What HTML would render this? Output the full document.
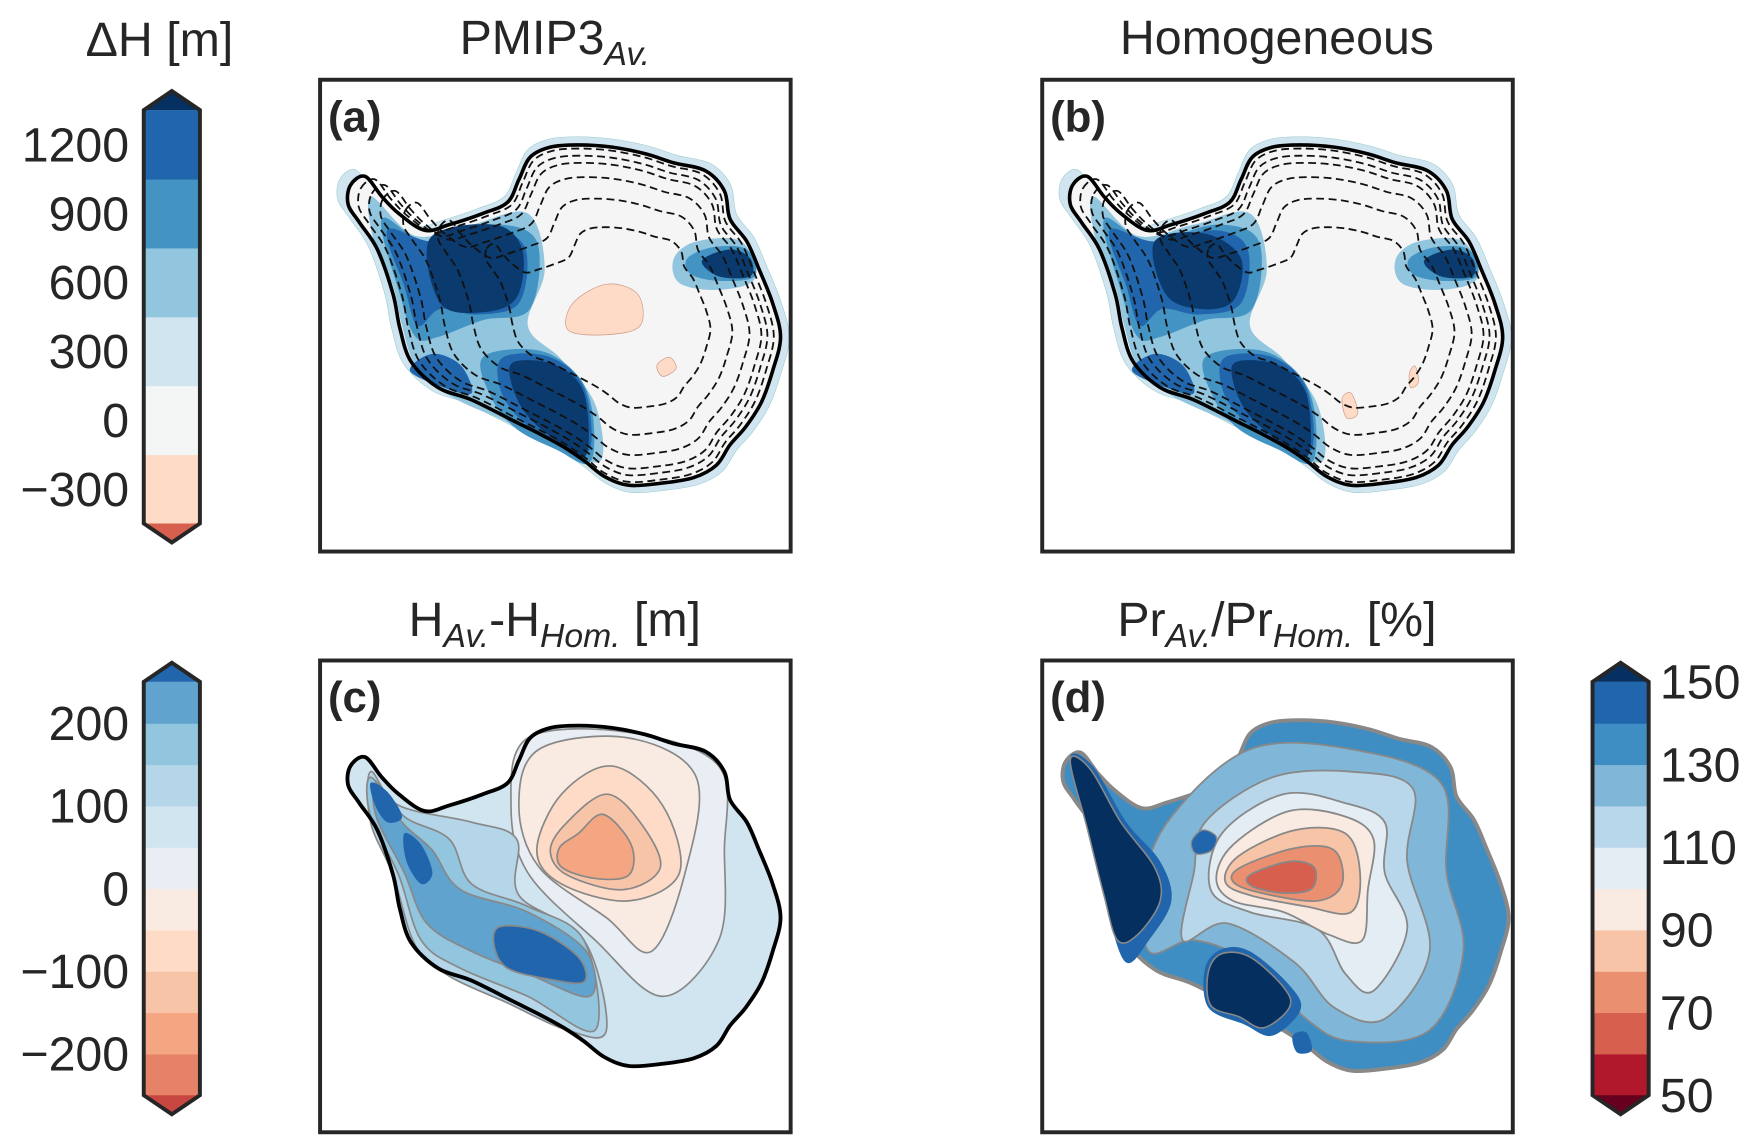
<!DOCTYPE html>
<html><head><meta charset="utf-8">
<style>
html,body{margin:0;padding:0;background:#fff;}
svg{display:block;}
text{font-family:"Liberation Sans","DejaVu Sans",sans-serif;fill:#262626;}
</style></head>
<body>
<svg id="fig" width="1752" height="1148" viewBox="0 0 1560 1022" preserveAspectRatio="none" xmlns="http://www.w3.org/2000/svg">
  <text x="142" y="50" font-size="43" text-anchor="middle">ΔH [m]</text>
  <text x="494" y="48" font-size="43" text-anchor="middle">PMIP3<tspan font-size="30" font-style="italic" dy="10">Av.</tspan></text>
  <text x="1137" y="48" font-size="43" text-anchor="middle">Homogeneous</text>
  <text x="494" y="566" font-size="43" text-anchor="middle">H<tspan font-size="30" font-style="italic" dy="10">Av.</tspan><tspan dy="-10">-H</tspan><tspan font-size="30" font-style="italic" dy="10">Hom.</tspan><tspan dy="-10"> [m]</tspan></text>
  <text x="1137" y="566" font-size="43" text-anchor="middle">Pr<tspan font-size="30" font-style="italic" dy="10">Av.</tspan><tspan dy="-10">/Pr</tspan><tspan font-size="30" font-style="italic" dy="10">Hom.</tspan><tspan dy="-10"> [%]</tspan></text>
  <g id="maps"></g>
  <g id="cbars"></g>
</svg>
<script>
// ---- colorbar data ----
const cb1Levels = [-450,-150,150,450,750,1050,1350];
const cb1Colors = ["#fddbc7","#f4f5f5","#d1e5f0","#92c5de","#4393c3","#2166ac"];
const cb1Ticks = [1200,900,600,300,0,-300];
const cb1Ext = ["#d6604d","#053061"];
const cb2Levels = [-250,-200,-150,-100,-50,0,50,100,150,200,250];
const cb2Colors = ["#e58267","#f4a582","#f8c4a8","#fddbc7","#f9ebe2","#e8eef4","#d1e5f0","#b5d5e8","#92c5de","#5fa3ce"];
const cb2Ticks = [200,100,0,-100,-200];
const cb2Ext = ["#c94741","#2166ac"];
const cb3Levels = [50,60,70,80,90,100,110,120,130,140,150];
const cb3Colors = ["#b2182b","#d6604d","#ea9070","#f8c4a8","#f9ebe2","#e3edf3","#b9d7ea","#80b7d8","#3f8ec3","#2166ac"];
const cb3Ticks = [150,130,110,90,70,50];
const cb3Ext = ["#67001f","#053061"];

const NS="http://www.w3.org/2000/svg";
function mk(tag,attrs,parent){const e=document.createElementNS(NS,tag);for(const k in attrs)e.setAttribute(k,attrs[k]);parent.appendChild(e);return e;}

function colorbar(x,top,bot,levels,colors,ticks,ext,labelRight,name){
  const g=mk("g",{},document.getElementById("cbars"));
  
  
  const w=50, lo=levels[0], hi=levels[levels.length-1];
  const y=v=>bot-(v-lo)/(hi-lo)*(bot-top);
  for(let i=0;i<colors.length;i++){
    const r=mk("rect",{x:x,y:y(levels[i+1]),width:w,height:y(levels[i])-y(levels[i+1])+0.5,fill:colors[i]},g);
    
    
  }
  const t1=mk("polygon",{points:`${x},${top} ${x+w/2},${top-17} ${x+w},${top}`,fill:ext[1]},g);
  
  
  const t2=mk("polygon",{points:`${x},${bot} ${x+w/2},${bot+17} ${x+w},${bot}`,fill:ext[0]},g);
  
  
  mk("polygon",{points:`${x},${top} ${x+w/2},${top-17} ${x+w},${top} ${x+w},${bot} ${x+w/2},${bot+17} ${x},${bot}`,fill:"none",stroke:"#262626","stroke-width":3.5},g);
  ticks.forEach(v=>{
    const t=mk("text",{x:labelRight?x+w+10:x-13,y:y(v)+15,"font-size":43,"text-anchor":labelRight?"start":"end"},g);
    t.textContent=(v<0?"\u2212"+(-v):String(v));
    
    
  });
}
colorbar(128,98,466,cb1Levels,cb1Colors,cb1Ticks,cb1Ext,false,"colorbar-dh");
colorbar(128,607,975,cb2Levels,cb2Colors,cb2Ticks,cb2Ext,false,"colorbar-h-diff");
colorbar(1418,607,975,cb3Levels,cb3Colors,cb3Ticks,cb3Ext,true,"colorbar-pr-ratio");

// ---- map shapes (geometry, panel-a coordinates) ----
const outline=[[312,165],[325,157],[340,175],[355,190],[378,205],[400,200],[430,190],[452,180],[462,160],[472,140],[490,131],[515,129],[545,131],[575,137],[600,145],[628,152],[645,170],[650,195],[665,215],[676,240],[688,270],[695,300],[688,330],[678,358],[664,380],[650,396],[638,414],[618,425],[590,430],[560,432],[538,424],[520,410],[502,398],[480,386],[458,375],[420,356],[390,345],[366,322],[356,292],[350,262],[336,222],[320,198],[310,182]];
function smooth(p){let d=`M${p[0][0]},${p[0][1]}`;const n=p.length;
  for(let i=0;i<n;i++){const p0=p[(i-1+n)%n],p1=p[i],p2=p[(i+1)%n],p3=p[(i+2)%n];
    d+=` C${p1[0]+(p2[0]-p0[0])/6},${p1[1]+(p2[1]-p0[1])/6} ${p2[0]-(p3[0]-p1[0])/6},${p2[1]-(p3[1]-p1[1])/6} ${p2[0]},${p2[1]}`;}
  return d+"Z";}
function scl(p,cx,cy,s,sy){sy=sy||s;return p.map(q=>[cx+(q[0]-cx)*s,cy+(q[1]-cy)*sy]);}
function path(g,pts,attrs,name){const e=mk("path",Object.assign({d:smooth(pts)},attrs),g);return e;}

function panelFrame(dx,dy,label){
  const g=mk("g",{transform:`translate(${dx},${dy})`},document.getElementById("maps"));
  
  
  return g;
}
function finishFrame(g,label){
  const r=mk("rect",{x:285,y:71,width:419,height:420,fill:"none",stroke:"#262626","stroke-width":3.5},g);
  
  
  const t=mk("text",{x:292,y:117,"font-size":39,"font-weight":"bold"},g);
  t.textContent="("+label+")";
  
  
}
function topPanel(dx,label,variant){
  const g=panelFrame(dx,0,label);
  path(g,scl(outline,520,290,1.045),{fill:"#d1e5f0",stroke:"#9cc",  "stroke-width":0.5},"ice-halo");
  path(g,outline,{fill:"#f5f5f5"},"ice-sheet");
  path(g,[[330,175],[370,210],[420,200],[470,190],[485,240],[470,290],[500,320],[530,360],[535,410],[500,398],[450,375],[400,352],[370,325],[358,290],[350,255],[334,220]],{fill:"#92c5de"},"light-blue-region");
  path(g,[[340,195],[380,215],[440,200],[478,215],[472,275],[430,285],[390,300],[370,300],[356,262]],{fill:"#4393c3"},"blue-region-west");
  path(g,[[345,205],[385,215],[440,205],[468,222],[462,270],[425,280],[392,275],[372,290],[360,255]],{fill:"#2166ac"},"dark-region-west-rim");
  path(g,variant?[[385,215],[430,208],[462,230],[455,268],[425,275],[395,262]]:[[383,212],[440,200],[465,222],[460,265],[430,278],[392,270]],{fill:"#0b3a6e"},"dark-region-west");
  path(g,[[430,318],[480,312],[515,335],[528,370],[525,412],[495,400],[460,382],[438,355]],{fill:"#4393c3"},"blue-region-south");
  path(g,[[448,318],[490,318],[520,345],[525,400],[495,395],[462,372],[445,345]],{fill:"#2166ac"},"dark-rim-south");
  path(g,[[458,322],[495,325],[520,350],[522,405],[495,392],[468,368],[455,340]],{fill:"#0b3a6e"},"dark-region-south");
  path(g,[[365,330],[385,315],[410,325],[420,350],[395,345]],{fill:"#2166ac"},"dark-blob-sw");
  path(g,[[600,230],[620,215],[660,215],[672,248],[640,258],[605,252]],{fill:"#92c5de"},"halo-east");
  path(g,[[612,230],[635,220],[665,222],[672,246],[640,250],[615,244]],{fill:"#4393c3"},"blue-east");
  path(g,[[625,232],[650,222],[668,230],[668,246],[640,246]],{fill:"#0b3a6e"},"dark-east");
  if(!variant){
    path(g,[[510,270],[540,253],[568,262],[570,290],[540,298],[506,294]],{fill:"#fddbc7",stroke:"#c98","stroke-width":0.6},"negative-area");
    path(g,[[585,325],[596,318],[602,328],[590,335]],{fill:"#fddbc7",stroke:"#c98","stroke-width":0.6},"negative-area-small");
  }else{
    path(g,[[552,355],[560,350],[566,368],[556,372]],{fill:"#fddbc7",stroke:"#c98","stroke-width":0.6},"negative-area-small");
    path(g,[[612,332],[617,326],[620,340],[613,345]],{fill:"#fddbc7",stroke:"#c98","stroke-width":0.6},"negative-area-small");
  }
  [0.96,0.92,0.88,0.8,0.68,0.52].forEach((s,i)=>{
    path(g,scl(outline,545+i*4,285,s,s*1.02),{fill:"none",stroke:"#111","stroke-width":1.6,"stroke-dasharray":"7,4"},"elevation-contour");
  });
  path(g,outline,{fill:"none",stroke:"#000","stroke-width":3.2},"coastline");
  finishFrame(g,label);
}
topPanel(0,"a",false);
topPanel(643,"b",true);

// panel c
(function(){
  const g=panelFrame(0,517,"c");
  path(g,outline,{fill:"#d1e5f0"},"ice-sheet");
  path(g,[[470,140],[560,135],[640,165],[645,240],[640,320],[590,370],[530,320],[470,260],[455,200]],{fill:"#e8eef4",stroke:"#888","stroke-width":1.5},"contour-0");
  path(g,[[480,150],[560,140],[620,175],[610,260],[580,330],[540,300],[480,255],[462,200]],{fill:"#f9ebe2",stroke:"#888","stroke-width":1.5},"contour-neg50");
  path(g,[[500,190],[545,165],[590,200],[605,260],[560,285],[500,270],[478,240]],{fill:"#fddbc7",stroke:"#888","stroke-width":1.5},"contour-neg100");
  path(g,[[505,215],[540,190],[570,215],[588,255],[555,275],[505,262],[490,240]],{fill:"#f8c4a8",stroke:"#888","stroke-width":1.5},"contour-neg150");
  path(g,[[515,225],[537,208],[562,235],[560,262],[530,265],[500,255],[498,238]],{fill:"#f4a582",stroke:"#888","stroke-width":1.5},"contour-neg200");
  path(g,[[330,170],[355,200],[420,215],[460,230],[462,280],[520,320],[540,400],[505,400],[450,375],[400,352],[370,325],[350,262],[330,215]],{fill:"#b5d5e8",stroke:"#888","stroke-width":1.5},"contour-100");
  path(g,[[330,175],[360,210],[400,230],[420,270],[470,290],[520,320],[530,400],[470,370],[410,345],[375,320],[355,262],[330,210]],{fill:"#92c5de",stroke:"#888","stroke-width":1.5},"contour-150");
  path(g,[[335,180],[358,215],[385,240],[410,275],[470,295],[522,330],[525,370],[470,350],[420,330],[380,305],[360,260],[335,210]],{fill:"#5fa3ce",stroke:"#888","stroke-width":1.5},"contour-200");
  path(g,[[330,180],[345,188],[358,210],[345,215],[334,200]],{fill:"#2166ac"},"dark-blob-peninsula");
  path(g,[[360,225],[375,235],[385,260],[375,270],[362,250]],{fill:"#2166ac"},"dark-blob-west");
  path(g,[[445,308],[480,312],[515,335],[520,357],[490,355],[452,345],[440,325]],{fill:"#2166ac",stroke:"#888","stroke-width":1.5},"dark-blob-south");
  path(g,outline,{fill:"none",stroke:"#000","stroke-width":3.4},"coastline");
  finishFrame(g,"c");
})();

// panel d
(function(){
  const g=panelFrame(643,517,"d");
  const o=scl(outline,520,290,1.03);
  path(g,o,{fill:"#3f8ec3",stroke:"#888","stroke-width":3.5},"ice-sheet");
  path(g,[[400,210],[470,150],[560,150],[640,180],[645,260],[660,330],[630,400],[560,410],[520,390],[470,340],[420,320],[380,330],[375,270]],{fill:"#80b7d8",stroke:"#888","stroke-width":1.6},"contour-120");
  path(g,[[430,215],[490,175],[560,170],[615,185],[610,250],[630,330],[590,390],[545,380],[510,340],[450,305],[410,320],[420,260]],{fill:"#b9d7ea",stroke:"#888","stroke-width":1.6},"contour-110");
  path(g,[[445,225],[500,190],[555,198],[590,215],[590,260],[610,310],[580,365],[555,350],[530,310],[470,295],[435,275]],{fill:"#e3edf3",stroke:"#888","stroke-width":1.6},"contour-100");
  path(g,[[455,235],[505,205],[555,210],[580,230],[575,275],[570,320],[540,315],[500,295],[455,285],[440,265]],{fill:"#f9ebe2",stroke:"#888","stroke-width":1.6},"contour-90");
  path(g,[[460,245],[510,222],[555,225],[568,260],[560,295],[520,290],[470,280],[448,268]],{fill:"#f8c4a8",stroke:"#888","stroke-width":1.6},"contour-80");
  path(g,[[462,255],[510,238],[545,240],[552,270],[530,285],[480,278],[455,268]],{fill:"#ea9070",stroke:"#888","stroke-width":1.6},"contour-70");
  path(g,[[470,262],[505,250],[527,255],[525,274],[500,278],[472,272]],{fill:"#d6604d",stroke:"#888","stroke-width":1.6},"contour-60");
  path(g,[[418,232],[428,222],[440,228],[436,240],[422,243]],{fill:"#2166ac",stroke:"#888","stroke-width":1.2},"blue-blob-north");
  path(g,[[310,160],[330,165],[360,215],[390,250],[400,285],[380,320],[360,340],[345,300],[335,240]],{fill:"#2166ac"},"blue-rim-west");
  path(g,[[310,160],[328,168],[355,215],[385,255],[390,285],[370,315],[352,320],[340,280],[325,220]],{fill:"#052f5f",stroke:"#888","stroke-width":1.4},"dark-region-west");
  path(g,[[430,345],[445,328],[470,330],[505,360],[515,382],[490,405],[465,395],[433,380]],{fill:"#2166ac"},"blue-rim-south");
  path(g,[[433,348],[445,332],[470,335],[500,362],[505,380],[482,398],[460,388],[435,378]],{fill:"#052f5f",stroke:"#888","stroke-width":1.4},"dark-region-south");
  path(g,[[508,405],[520,402],[525,418],[512,420]],{fill:"#2166ac"},"blue-blob-small");
  finishFrame(g,"d");
})();
</script>
</body></html>
